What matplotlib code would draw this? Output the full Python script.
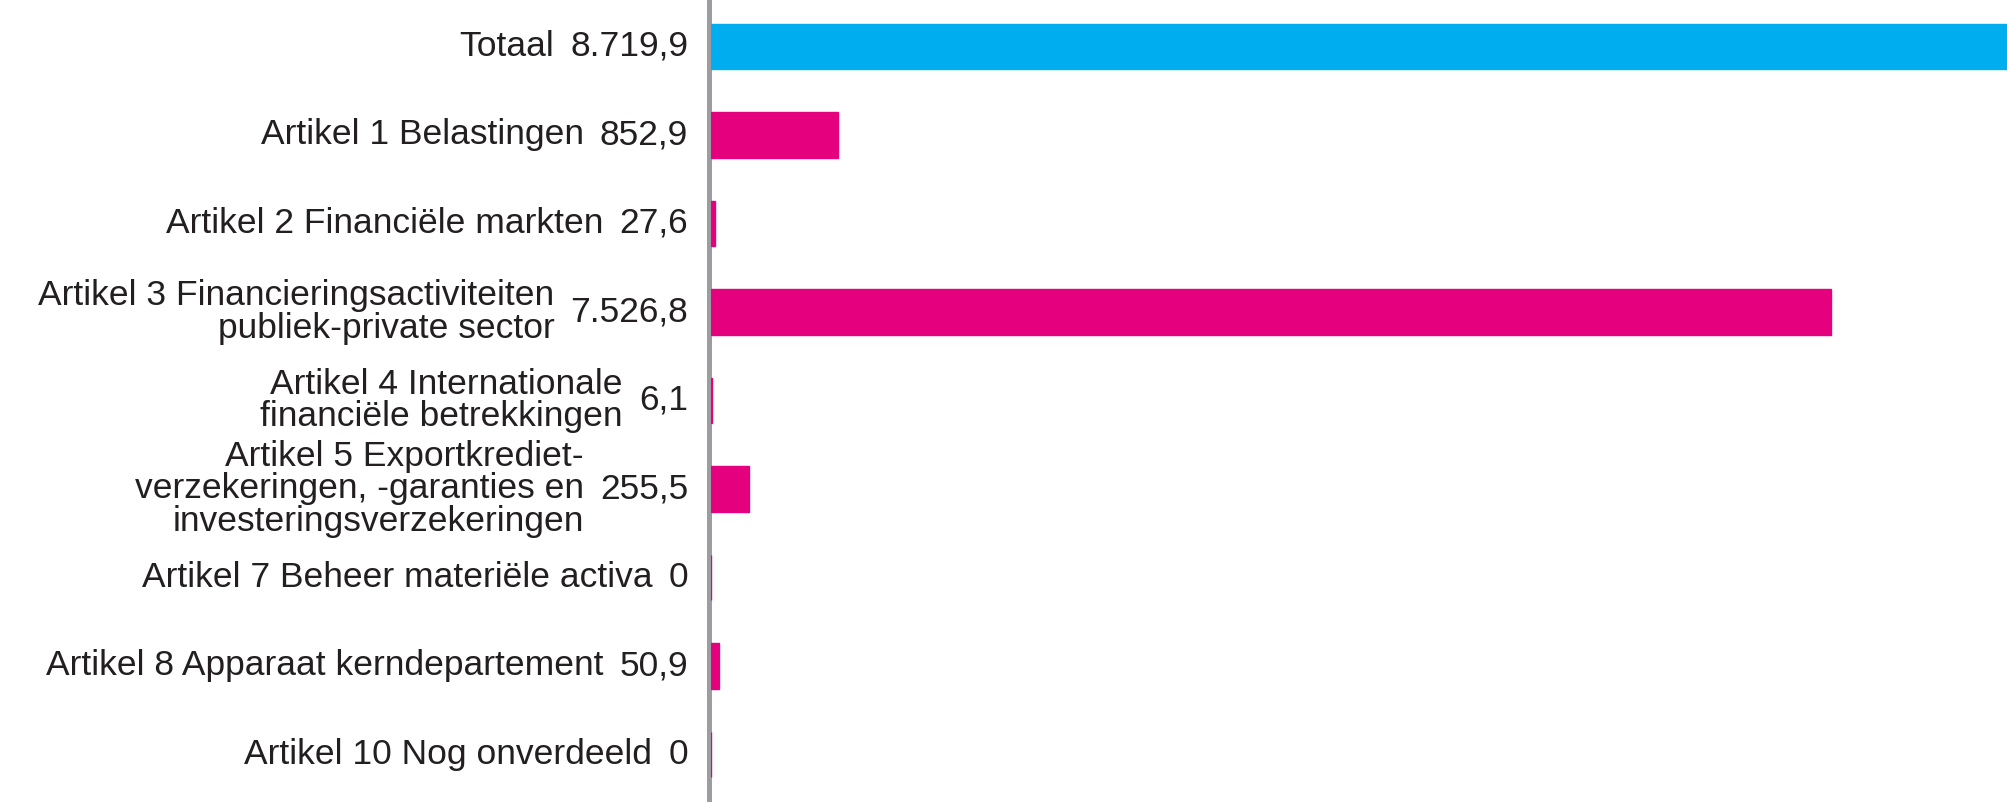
import matplotlib
matplotlib.use('Agg')
import matplotlib.pyplot as plt
from matplotlib.transforms import offset_copy

# Data (bedragen x miljoen euro)
labels = [
    "Totaal",
    "Artikel 1 Belastingen",
    "Artikel 2 Financiële markten",
    "Artikel 3 Financieringsactiviteiten\npubliek-private sector",
    "Artikel 4 Internationale\nfinanciële betrekkingen",
    "Artikel 5 Exportkrediet-\nverzekeringen, -garanties en\ninvesteringsverzekeringen",
    "Artikel 7 Beheer materiële activa",
    "Artikel 8 Apparaat kerndepartement",
    "Artikel 10 Nog onverdeeld",
]
values = [8719.9, 852.9, 27.6, 7526.8, 6.1, 255.5, 0, 50.9, 0]
value_labels = ["8.719,9", "852,9", "27,6", "7.526,8", "6,1", "255,5", "0", "50,9", "0"]

BLUE = "#00aeef"
MAGENTA = "#e5007d"
TEXT = "#231f20"
plt.rcParams['font.family'] = ['Liberation Sans', 'DejaVu Sans']
FS = 25.5

fig = plt.figure(figsize=(20.08, 8.02), dpi=100)
ax = fig.add_axes([711 / 2008, 0, 1 - 711 / 2008, 1])

colors = [BLUE] + [MAGENTA] * (len(values) - 1)
ypos = list(range(len(values)))
ax.barh(ypos, values, height=0.51, color=colors, edgecolor=colors, linewidth=1.0, zorder=3)

ax.set_xlim(0, values[0])
ax.set_ylim(8.537, -0.525)
ax.set_xticks([])
ax.set_yticks([])
for s in ['top', 'right', 'bottom']:
    ax.spines[s].set_visible(False)
ax.spines['left'].set_color('#9d9ca1')
ax.spines['left'].set_linewidth(3.6)
ax.spines['left'].set_position(('outward', 1.8))

# labels: value next to the axis, name left of it
renderer = fig.canvas.get_renderer()
base = ax.get_yaxis_transform()
val_tr = offset_copy(base, fig=fig, x=-23, y=0, units='dots')
for i, (name, vl) in enumerate(zip(labels, value_labels)):
    t = ax.text(0, i, vl, transform=val_tr, ha='right', va='center',
                fontsize=FS, color=TEXT)
    w = t.get_window_extent(renderer).width
    name_tr = offset_copy(base, fig=fig, x=-23 - w - 16, y=0, units='dots')
    ax.text(0, i, name, transform=name_tr, ha='right', va='center',
            fontsize=FS, color=TEXT, multialignment='right', linespacing=0.97)

fig.savefig('out.png', dpi=100)
